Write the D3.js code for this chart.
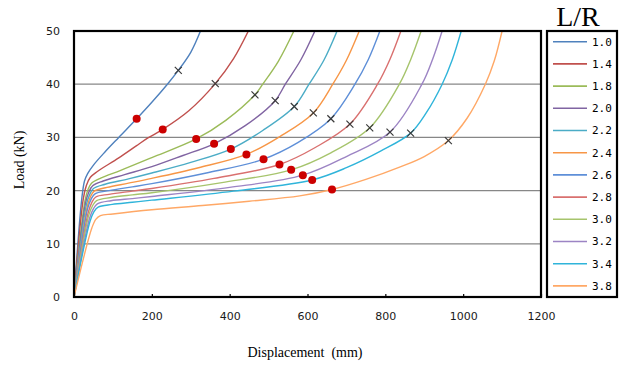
<!DOCTYPE html>
<html>
<head>
<meta charset="utf-8">
<script src="https://cdn.jsdelivr.net/npm/d3@7/dist/d3.min.js"></script>
<style>
  body { margin: 0; background: #fff; }
</style>
</head>
<body>
<div class="chart"></div>
<script>
var svgWidth = 629;
var svgHeight = 367;

var margin = { top: 31, right: 88, bottom: 70, left: 74 };
var width = svgWidth - margin.left - margin.right;
var height = svgHeight - margin.top - margin.bottom;

// Data: L/R series as [displacement mm, load kN]
var lrLabels = ["1.0", "1.4", "1.8", "2.0", "2.2", "2.4", "2.6", "2.8", "3.0", "3.2", "3.4", "3.8"];
var lineColors = ["#4f81bd", "#c0504d", "#9bbb59", "#8064a2", "#4bacc6", "#f79646",
                  "#5e8fd8", "#d9706f", "#a6c46c", "#9c84c4", "#2fb4da", "#ffa866"];

var curve10 = [[0,0],[20,18.5],[27,21.8],[35,23.2],[50,24.8],[80,27.3],[115,30.0],[161,33.5],[200,36.6],[240,40.0],[268,42.6],[300,46.0],[325,50]];
var curve14 = [[0,0],[24,18.5],[32,21.0],[42,22.5],[60,23.6],[114,26.1],[160,28.4],[190,29.9],[228,31.5],[295,35.0],[363,40.1],[410,44.8],[448,50]];
var curve18 = [[0,0],[28,18.0],[36,20.2],[45,21.4],[70,22.4],[120,23.8],[200,26.2],[314,29.7],[390,33.2],[465,38.0],[485,40],[525,44.3],[565,50]];
var curve20 = [[0,0],[30,17.8],[38,19.7],[48,20.9],[75,21.8],[130,23.0],[200,24.5],[280,26.6],[360,28.8],[440,32.2],[517,36.9],[543,40],[583,44.6],[619,50]];
var curve22 = [[0,0],[32,17.4],[40,19.2],[50,20.4],[80,21.2],[140,22.2],[200,23.3],[300,25.3],[403,27.8],[485,31.3],[566,35.8],[604,40],[642,44.5],[676,50]];
var curve24 = [[0,0],[34,17.0],[42,18.8],[52,19.9],[85,20.6],[140,21.4],[200,22.3],[320,24.3],[443,26.8],[530,30.2],[615,34.6],[665,40],[700,44.5],[733,50]];
var curve26 = [[0,0],[35,16.6],[44,18.4],[54,19.4],[90,20.0],[150,20.7],[200,21.3],[340,23.3],[487,25.9],[575,29.0],[660,33.5],[722,40],[756,44.6],[786,50]];
var curve28 = [[0,0],[37,16.0],[46,17.8],[56,18.8],[90,19.3],[150,19.9],[200,20.4],[360,22.3],[528,24.9],[620,28.1],[709,32.5],[780,40],[812,44.7],[840,50]];
var curve30 = [[0,0],[38,15.4],[48,17.2],[58,18.1],[95,18.7],[150,19.2],[200,19.6],[380,21.5],[558,23.9],[660,27.1],[760,31.8],[836,40],[866,44.8],[892,50]];
var curve32 = [[0,0],[40,14.8],[50,16.6],[60,17.5],[95,18.1],[150,18.5],[200,18.9],[400,20.6],[588,22.9],[700,26.4],[812,31.0],[894,40],[922,44.8],[946,50]];
var curve34 = [[0,0],[41,14.2],[51,16.0],[62,16.9],[98,17.4],[150,17.8],[200,18.2],[410,19.9],[612,22.0],[700,24.3],[790,27.5],[865,30.8],[905,34.6],[946,40],[972,44.6],[995,50]];
var curve38 = [[0,0],[46,13.0],[56,14.6],[68,15.3],[100,15.6],[200,16.4],[330,17.2],[450,18.0],[580,19.0],[663,20.2],[750,22.1],[840,24.5],[900,26.4],[962,29.4],[1010,33.6],[1057,40],[1080,44.4],[1100,50]];

var curves = [curve10, curve14, curve18, curve20, curve22, curve24, curve26, curve28, curve30, curve32, curve34, curve38];

// red dots and x marks, one per curve
var dotPoints = [[161,33.5],[228,31.5],[314,29.7],[360,28.8],[403,27.8],[443,26.8],[487,25.9],[528,24.9],[558,23.9],[588,22.9],[612,22.0],[663,20.2]];
var crossPoints = [[268,42.6],[363,40.1],[465,38.0],[517,36.9],[566,35.8],[615,34.6],[660,33.5],[709,32.5],[760,31.8],[812,31.0],[865,30.8],[962,29.4]];

var xTickValues = [0, 200, 400, 600, 800, 1000, 1200];
var yTickValues = [0, 10, 20, 30, 40, 50];

var svg = d3.select(".chart")
  .append("svg")
  .attr("width", svgWidth)
  .attr("height", svgHeight)
  .style("display", "block");

svg.append("rect")
  .attr("width", svgWidth)
  .attr("height", svgHeight)
  .attr("fill", "#fff");

var chartGroup = svg.append("g")
  .attr("transform", `translate(${margin.left}, ${margin.top})`);

// Step 1: scales
var xLinearScale = d3.scaleLinear()
  .domain([0, 1200])
  .range([0, width]);

var yLinearScale = d3.scaleLinear()
  .domain([0, 50])
  .range([height, 0]);

// Step 2: gridlines
chartGroup.append("g")
  .selectAll("line")
  .data(yTickValues.filter(v => v > 0 && v < 50))
  .enter()
  .append("line")
  .attr("x1", 0)
  .attr("x2", width)
  .attr("y1", d => yLinearScale(d))
  .attr("y2", d => yLinearScale(d))
  .attr("stroke", "#878787")
  .attr("stroke-width", 1.2);

// Step 3: axes
var bottomAxis = d3.axisBottom(xLinearScale)
  .tickValues(xTickValues)
  .tickFormat(d => d)
  .tickSizeInner(-3)
  .tickSizeOuter(0)
  .tickPadding(15);

var leftAxis = d3.axisLeft(yLinearScale)
  .tickValues(yTickValues)
  .tickSize(0)
  .tickPadding(14);

var xAxisG = chartGroup.append("g")
  .attr("transform", `translate(0,${height})`)
  .call(bottomAxis);
xAxisG.select(".domain").remove();
xAxisG.selectAll(".tick line").attr("stroke", "#000").attr("stroke-width", 1.2);

var yAxisG = chartGroup.append("g")
  .call(leftAxis);
yAxisG.select(".domain").remove();

chartGroup.selectAll(".tick text")
  .attr("font-family", "DejaVu Sans, sans-serif")
  .attr("font-size", 11)
  .attr("fill", "#1a1a1a");

// Step 4: curves
var clip = chartGroup.append("clipPath").attr("id", "plotClip");
clip.append("rect").attr("width", width).attr("height", height);

var lineGen = d3.line()
  .x(d => xLinearScale(d[0]))
  .y(d => yLinearScale(d[1]))
  .curve(d3.curveCatmullRom.alpha(0.5));

chartGroup.append("g")
  .attr("clip-path", "url(#plotClip)")
  .selectAll("path")
  .data(curves)
  .enter()
  .append("path")
  .attr("d", d => lineGen(d))
  .attr("fill", "none")
  .attr("stroke", (d, i) => lineColors[i])
  .attr("stroke-width", 1.4);

// Step 5: markers
chartGroup.selectAll(".dot")
  .data(dotPoints)
  .enter()
  .append("circle")
  .attr("class", "dot")
  .attr("cx", d => xLinearScale(d[0]))
  .attr("cy", d => yLinearScale(d[1]))
  .attr("r", 4)
  .attr("fill", "#cc0000");

var crossG = chartGroup.selectAll(".cross")
  .data(crossPoints)
  .enter()
  .append("g")
  .attr("class", "cross")
  .attr("transform", d => `translate(${xLinearScale(d[0])},${yLinearScale(d[1])})`);
crossG.append("path")
  .attr("d", "M-3.5,-3.5L3.5,3.5M-3.5,3.5L3.5,-3.5")
  .attr("stroke", "#3a3a3a")
  .attr("stroke-width", 1.2);

// frame
chartGroup.append("rect")
  .attr("width", width)
  .attr("height", height)
  .attr("fill", "none")
  .attr("stroke", "#000")
  .attr("stroke-width", 2.2);

// axes labels
chartGroup.append("text")
  .attr("transform", "rotate(-90)")
  .attr("y", 19 - margin.left)
  .attr("x", 0 - 129)
  .attr("dy", "0.35em")
  .attr("text-anchor", "middle")
  .attr("font-family", "Liberation Serif, serif")
  .attr("font-size", 14)
  .text("Load (kN)");

chartGroup.append("text")
  .attr("x", 305 - margin.left)
  .attr("y", 357 - margin.top)
  .attr("text-anchor", "middle")
  .attr("font-family", "Liberation Serif, serif")
  .attr("font-size", 14)
  .style("white-space", "pre")
  .text("Displacement  (mm)");

// Step 6: legend
var legend = svg.append("g")
  .attr("transform", "translate(547,31)");

legend.append("rect")
  .attr("width", 70)
  .attr("height", 266)
  .attr("fill", "#fff")
  .attr("stroke", "#000")
  .attr("stroke-width", 2.2);

var legendItem = legend.selectAll(".legendItem")
  .data(lrLabels)
  .enter()
  .append("g")
  .attr("class", "legendItem")
  .attr("transform", (d, i) => `translate(0,${10.7 + i * 22.2})`);

legendItem.append("line")
  .attr("x1", 6)
  .attr("x2", 40)
  .attr("stroke", (d, i) => lineColors[i])
  .attr("stroke-width", 1.6);

legendItem.append("text")
  .attr("x", 45)
  .attr("dy", "0.35em")
  .attr("font-family", "DejaVu Sans Mono, monospace")
  .attr("font-size", 11)
  .text(d => d);

svg.append("text")
  .attr("x", 578)
  .attr("y", 26)
  .attr("text-anchor", "middle")
  .attr("font-family", "Liberation Serif, serif")
  .attr("font-size", 28)
  .text("L/R");
</script>
</body>
</html>
